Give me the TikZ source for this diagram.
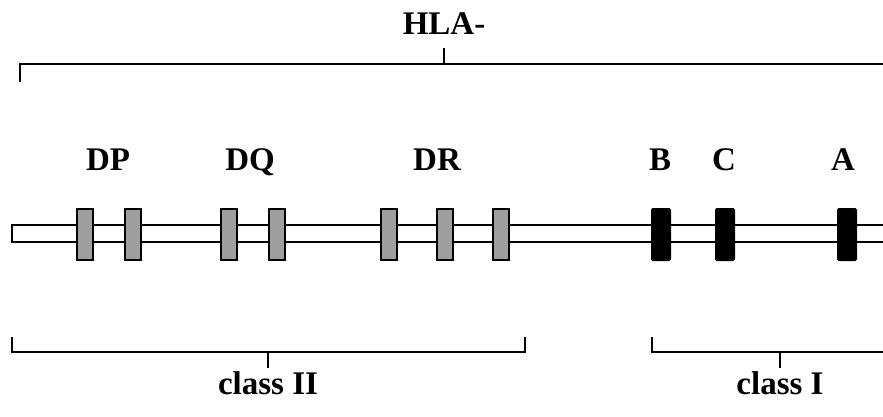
\documentclass[tikz,border=0pt]{standalone}
\usepackage{fontspec}
\setmainfont{Liberation Serif}
\begin{document}
\begin{tikzpicture}[x=1pt,y=-1pt,
  line width=2pt,
  exon/.style={draw=black,fill=black!38,minimum width=16pt,minimum height=51pt,inner sep=0pt},
  classone/.style={draw=black,fill=black,minimum width=18pt,minimum height=51pt,inner sep=0pt,rounded corners=1pt},
  lbl/.style={font=\fontsize{33}{38}\selectfont\bfseries,anchor=base,inner sep=0pt}]
\useasboundingbox (0,0) rectangle (883,417);

% chromosome bar, closed on the left
\draw (883,225) -- (12,225) -- (12,242) -- (883,242);

% class II gene boxes
\foreach \n/\x in {p1/85,p2/133,q1/229,q2/277,r1/388.5,r2/444.5,r3/501}
  \node[exon] (\n) at (\x,234.5) {};
% class I gene boxes
\foreach \n/\x in {b/661,c/725,a/847}
  \node[classone] (\n) at (\x,234.5) {};

% gene labels
\node[lbl] (lDP) at (108,170) {DP};
\node[lbl] (lDQ) at (250,170) {DQ};
\node[lbl] (lDR) at (437,170) {DR};
\node[lbl] (lB) at (660,170) {B};
\node[lbl] (lC) at (724,170) {C};
\node[lbl] (lA) at (843,170) {A};

% HLA bracket
\node[lbl] (hla) at (444,35) {HLA-};
\coordinate (hl) at (20,82);
\coordinate (hr) at (884,64);
\coordinate (ht) at (444,48);
\draw (hl) -- (20,64) -- (hr);
\draw (ht) -- (444,64);

% class II bracket
\coordinate (c2l) at (12,337);
\coordinate (c2r) at (525,337);
\draw (c2l) -- (12,352) -- (525,352) -- (c2r);
\draw (268,352) -- (268,368);
\node[lbl] (cII) at (268,394) {class II};

% class I bracket
\coordinate (c1l) at (652,337);
\draw (c1l) -- (652,352) -- (884,352);
\draw (780,352) -- (780,368);
\node[lbl] (cI) at (780,394) {class I};
\end{tikzpicture}
\end{document}
